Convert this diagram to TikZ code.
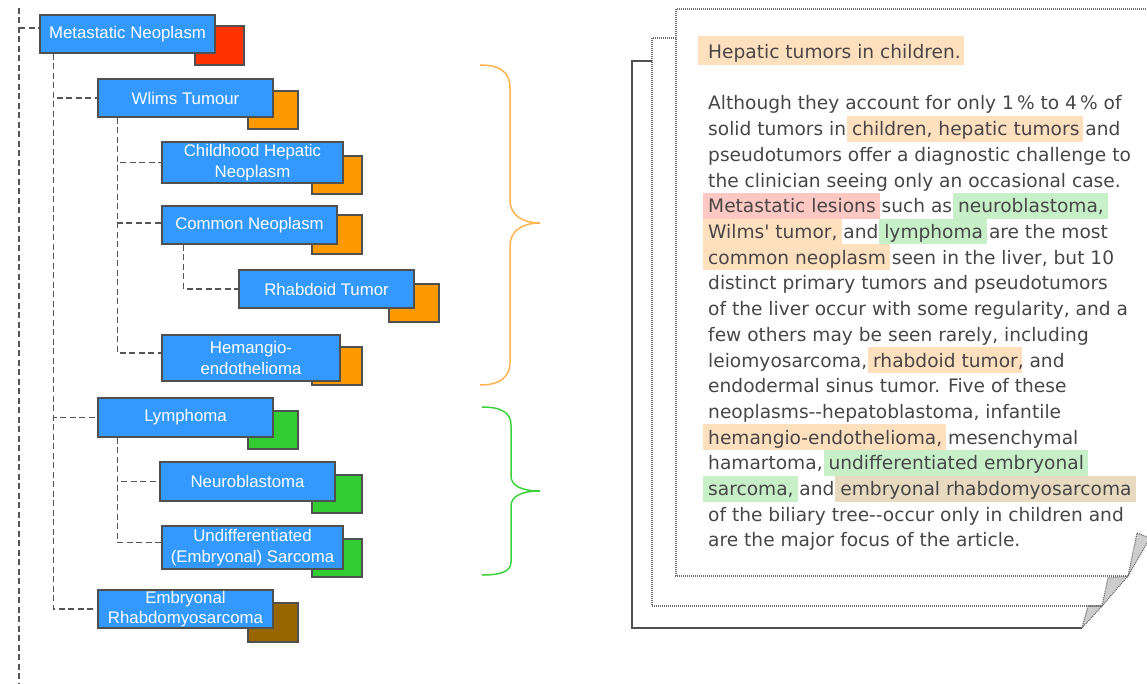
\documentclass[tikz,border=0pt]{standalone}
\usepackage{fontspec}
\setmainfont{Liberation Sans}
\newfontfamily\docfont{DejaVu Sans}[Ligatures=TeXOff]
\definecolor{boxblue}{RGB}{51,153,255}
\definecolor{boxedge}{RGB}{80,80,80}
\definecolor{shred}{RGB}{255,51,0}
\definecolor{shorange}{RGB}{255,153,0}
\definecolor{shgreen}{RGB}{51,204,51}
\definecolor{shbrown}{RGB}{153,102,0}
\definecolor{connc}{RGB}{85,85,85}
\definecolor{hlorange}{RGB}{255,224,190}
\definecolor{hlred}{RGB}{255,200,195}
\definecolor{hlgreen}{RGB}{200,240,200}
\definecolor{hltan}{RGB}{232,218,192}
\definecolor{doctext}{RGB}{70,70,70}
\definecolor{bracor}{RGB}{255,180,80}
\definecolor{bracgr}{RGB}{60,210,60}
\definecolor{foldc}{RGB}{205,205,205}
\newcommand\hlt[2]{{\setlength{\fboxsep}{0pt}\kern-5pt\colorbox{#1}{\rule[-6pt]{0pt}{25.7pt}\kern5pt#2\kern4pt}\kern-4pt}}
\tikzset{
  tbox/.style={draw=boxedge, line width=1.3pt, fill=boxblue, text=white, inner sep=0pt,
    font=\fontsize{16.8}{20.5}\selectfont, align=center},
  shbox/.style={draw=boxedge, line width=1.3pt, inner sep=0pt},
  conn/.style={draw=connc, line width=1.2pt, dash pattern=on 6pt off 3.5pt},
  docline/.style={anchor=base west, inner sep=0pt, text=doctext, font=\docfont\fontsize{18.6}{25.7}\selectfont},
  dotedge/.style={draw={rgb,255:red,110;green,110;blue,110}, line width=1.2pt, dash pattern=on 1pt off 1pt},
  solidedge/.style={draw={rgb,255:red,80;green,80;blue,80}, line width=1.2pt},
}
\begin{document}
\begin{tikzpicture}[x=1pt,y=-1pt]
\useasboundingbox (0,0) rectangle (1147,684);
\clip (0,0) rectangle (1147,684);

% ---------- connector anchors ----------
\coordinate (rtop) at (19,8);
\coordinate (rbot) at (19,684);
\coordinate (rbr) at (19,28);

% ---------- shadow boxes ----------
\node[shbox, fill=shred,    minimum width=49pt, minimum height=39pt] (s1)  at (219.5,45.5) {};
\node[shbox, fill=shorange, minimum width=50pt, minimum height=38pt] (s2)  at (273,110) {};
\node[shbox, fill=shorange, minimum width=50pt, minimum height=38pt] (s3)  at (337,175) {};
\node[shbox, fill=shorange, minimum width=50pt, minimum height=39pt] (s4)  at (337,234.5) {};
\node[shbox, fill=shorange, minimum width=50pt, minimum height=38pt] (s5)  at (414,303) {};
\node[shbox, fill=shorange, minimum width=50pt, minimum height=38pt] (s6)  at (337,366) {};
\node[shbox, fill=shgreen,  minimum width=50pt, minimum height=38pt] (s7)  at (273,430) {};
\node[shbox, fill=shgreen,  minimum width=50pt, minimum height=38pt] (s8)  at (337,494) {};
\node[shbox, fill=shgreen,  minimum width=50pt, minimum height=38pt] (s9)  at (337,558) {};
\node[shbox, fill=shbrown,  minimum width=50pt, minimum height=39pt] (s10) at (273,622.5) {};

% ---------- blue boxes ----------
\node[tbox, minimum width=175pt, minimum height=38pt] (n1)  at (127.5,34) {Metastatic Neoplasm};
\node[tbox, minimum width=175pt, minimum height=38pt] (n2)  at (185.5,98) {Wlims Tumour};
\node[tbox, minimum width=181pt, minimum height=41pt] (n3)  at (252.5,162.5) {Childhood Hepatic\\Neoplasm};
\node[tbox, minimum width=175pt, minimum height=38pt] (n4)  at (249.5,225) {Common Neoplasm};
\node[tbox, minimum width=175pt, minimum height=38pt] (n5)  at (326.5,289) {Rhabdoid Tumor};
\node[tbox, minimum width=178pt, minimum height=46pt] (n6)  at (251,358) {Hemangio-\\endothelioma};
\node[tbox, minimum width=175pt, minimum height=39pt] (n7)  at (185.5,417.5) {Lymphoma};
\node[tbox, minimum width=175pt, minimum height=39pt] (n8)  at (247.5,481.5) {Neuroblastoma};
\node[tbox, minimum width=181pt, minimum height=43pt] (n9)  at (252.5,547.5) {Undifferentiated\\(Embryonal) Sarcoma};
\node[tbox, minimum width=175pt, minimum height=38pt] (n10) at (185.5,609) {Embryonal\\Rhabdomyosarcoma};

% ---------- connectors ----------
\draw[conn] (rtop) -- (rbot);
\draw[conn] (rbr) -- (rbr -| n1.west);
\draw[conn] ([xshift=14pt]n1.south west) |- (n2.west);
\draw[conn] ([xshift=14pt]n1.south west) |- (n7.west);
\draw[conn] ([xshift=14pt]n1.south west) |- (n10.west);
\draw[conn] ([xshift=20pt]n2.south west) |- (n3.west);
\draw[conn] ([xshift=20pt]n2.south west) |- ([yshift=2pt]n4.west);
\draw[conn] ([xshift=20pt]n2.south west) |- ([yshift=5pt]n6.west);
\draw[conn] ([xshift=22pt]n4.south west) |- (n5.west);
\draw[conn] ([xshift=20pt]n7.south west) |- (n8.west);
\draw[conn] ([xshift=20pt]n7.south west) |- ([yshift=5pt]n9.west);

% ---------- braces ----------
\draw[bracor, line width=1.5pt] (480,65) .. controls (500,65) and (510,72) .. (510,88) -- (510,200)
  .. controls (510,215) and (522,223) .. (540,223) .. controls (522,223) and (510,231) .. (510,246)
  -- (510,362) .. controls (510,377) and (500,385) .. (480,385);
\draw[bracgr, line width=1.5pt] (482,407) .. controls (502,407) and (511,413) .. (511,425) -- (511,476)
  .. controls (511,486) and (522,491) .. (540,491) .. controls (522,491) and (511,496) .. (511,506)
  -- (511,562) .. controls (511,571) and (502,575) .. (482,575);

% ---------- document pages ----------
\draw[solidedge] (652,61) -- (632,61) -- (632,628) -- (1082,628);
\filldraw[fill=foldc, dotedge] (1082,628) -- (1088,606) -- (1102,606) -- cycle;
\draw[dotedge] (676,38) -- (652,38) -- (652,606) -- (1102,606);
\filldraw[fill=foldc, dotedge] (1102,606) -- (1108,578) -- (1128,576) -- cycle;
\draw[dotedge] (1160,9) -- (676,9) -- (676,576) -- (1128,576);
\filldraw[fill=foldc, dotedge] (1128,576) -- (1137,533) -- (1150,538) -- cycle;

% ---------- document text ----------
\node[docline] (title) at (708,59) {{\setlength{\fboxsep}{0pt}\kern-10pt\colorbox{hlorange}{\rule[-6pt]{0pt}{29pt}\kern10pt Hepatic tumors in children.\kern3pt}}};
\node[docline] (l0)  at (708,110.0) {Although they account for only 1\,\% to 4\,\% of};
\node[docline] (l1)  at (708,135.7) {solid tumors in \hlt{hlorange}{children, hepatic tumors} and};
\node[docline] (l2)  at (708,161.4) {pseudotumors offer a diagnostic challenge to};
\node[docline] (l3)  at (708,187.1) {the clinician seeing only an occasional case.};
\node[docline] (l4)  at (708,212.8) {\hlt{hlred}{Metastatic lesions} such as \hlt{hlgreen}{neuroblastoma,}};
\node[docline] (l5)  at (708,238.5) {\hlt{hlorange}{Wilms' tumor,} and \hlt{hlgreen}{lymphoma} are the most};
\node[docline] (l6)  at (708,264.2) {\hlt{hlorange}{common neoplasm} seen in the liver, but 10};
\node[docline] (l7)  at (708,289.9) {distinct primary tumors and pseudotumors};
\node[docline] (l8)  at (708,315.6) {of the liver occur with some regularity, and a};
\node[docline] (l9)  at (708,341.3) {few others may be seen rarely, including};
\node[docline] (l10) at (708,367.0) {leiomyosarcoma, \hlt{hlorange}{rhabdoid tumor}, and};
\node[docline] (l11) at (708,392.7) {endodermal sinus tumor. Five of these};
\node[docline] (l12) at (708,418.4) {neoplasms--hepatoblastoma, infantile};
\node[docline] (l13) at (708,444.1) {\hlt{hlorange}{hemangio-endothelioma,} mesenchymal};
\node[docline] (l14) at (708,469.8) {hamartoma, \hlt{hlgreen}{undifferentiated embryonal}};
\node[docline] (l15) at (708,495.5) {\hlt{hlgreen}{sarcoma,} and \hlt{hltan}{embryonal rhabdomyosarcoma}};
\node[docline] (l16) at (708,521.2) {of the biliary tree--occur only in children and};
\node[docline] (l17) at (708,546.9) {are the major focus of the article.};
\end{tikzpicture}
\end{document}
